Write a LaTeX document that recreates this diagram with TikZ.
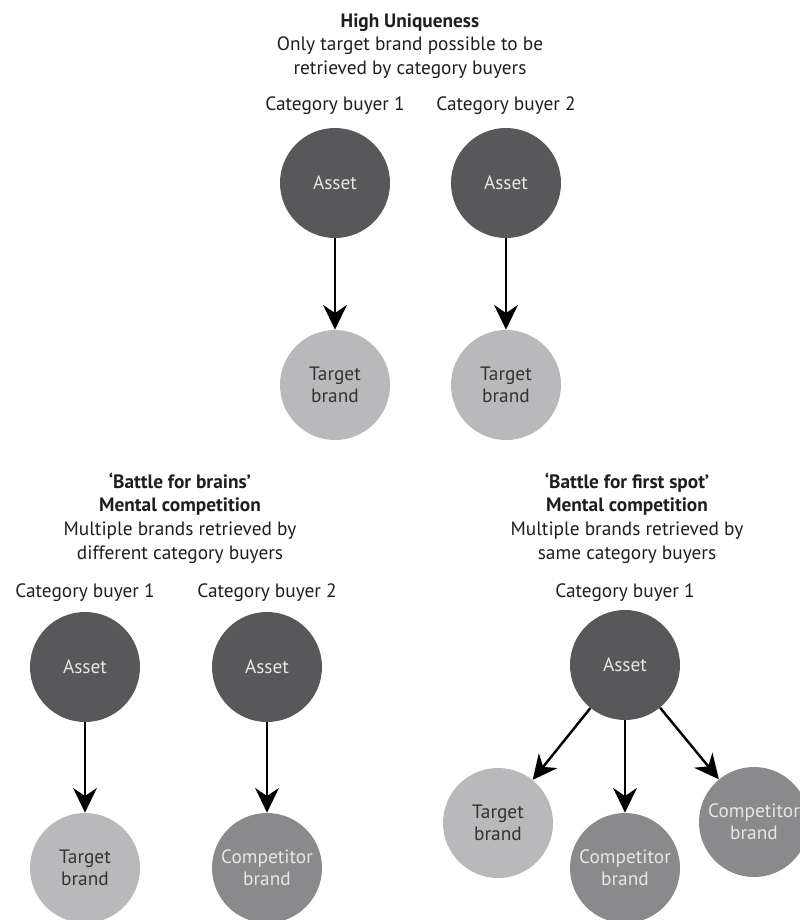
\documentclass[tikz,border=0pt]{standalone}
\usepackage{fontspec}
\setmainfont{PT Sans}
\usetikzlibrary{arrows.meta}
\definecolor{assetfill}{HTML}{58585A}
\definecolor{targetfill}{HTML}{B9B9BB}
\definecolor{compfill}{HTML}{8A8A8C}
\definecolor{inklight}{HTML}{E6E6E6}
\definecolor{inkdark}{HTML}{333333}
\definecolor{headink}{HTML}{1E1E1E}
\tikzset{
  bubble/.style={circle, draw=none, minimum size=110*0.02cm, inner sep=0pt, align=center,
    font=\fontsize{11pt}{12.6pt}\selectfont},
  asset/.style={bubble, fill=assetfill, text=inklight},
  target/.style={bubble, fill=targetfill, text=inkdark},
  comp/.style={bubble, fill=compfill, text=inklight},
  caption/.style={align=center, text=headink, font=\fontsize{11pt}{13.5pt}\selectfont},
  buyer/.style={text=headink, font=\fontsize{11pt}{13pt}\selectfont},
  link/.style={line width=1.4pt, draw=black, -{Stealth[length=14pt, width=13.5pt, inset=4.5pt]}}
}
\begin{document}
\begin{tikzpicture}[x=0.02cm, y=-0.02cm]
\useasboundingbox (0,0) rectangle (800,920);

% High uniqueness
\node[caption] (capA) at (410,46) {\textbf{High Uniqueness}\\Only target brand possible to be\\retrieved by category buyers};
\node[buyer] (buyA1) at (335,106) {Category buyer 1};
\node[buyer] (buyA2) at (506,106) {Category buyer 2};
\node[asset] (assA1) at (335,183) {Asset};
\node[asset] (assA2) at (506,183) {Asset};
\node[target] (tgtA1) at (335,385) {Target\\brand};
\node[target] (tgtA2) at (506,385) {Target\\brand};
\draw[link] (assA1) -- (tgtA1);
\draw[link] (assA2) -- (tgtA2);

% Battle for brains
\node[caption] (capB) at (180,518) {\textbf{‘Battle for brains’}\\\textbf{Mental competition}\\Multiple brands retrieved by\\different category buyers};
\node[buyer] (buyB1) at (85,593) {Category buyer 1};
\node[buyer] (buyB2) at (267,593) {Category buyer 2};
\node[asset] (assB1) at (85,667) {Asset};
\node[asset] (assB2) at (267,667) {Asset};
\node[target] (tgtB1) at (85,868) {Target\\brand};
\node[comp] (cmpB2) at (267,868) {Competitor\\brand};
\draw[link] (assB1) -- (tgtB1);
\draw[link] (assB2) -- (cmpB2);

% Battle for first spot
\node[caption] (capC) at (627,518) {\textbf{‘Battle for first spot’}\\\textbf{Mental competition}\\Multiple brands retrieved by\\same category buyers};
\node[buyer] (buyC1) at (625,593) {Category buyer 1};
\node[asset] (assC1) at (625,665) {Asset};
\node[target] (tgtC1) at (498,823) {Target\\brand};
\node[comp] (cmpC2) at (625,868) {Competitor\\brand};
\node[comp] (cmpC3) at (754,822) {Competitor\\brand};
\draw[link] (assC1) -- (tgtC1);
\draw[link] (assC1) -- (cmpC2);
\draw[link] (assC1) -- (cmpC3);
\end{tikzpicture}
\end{document}
